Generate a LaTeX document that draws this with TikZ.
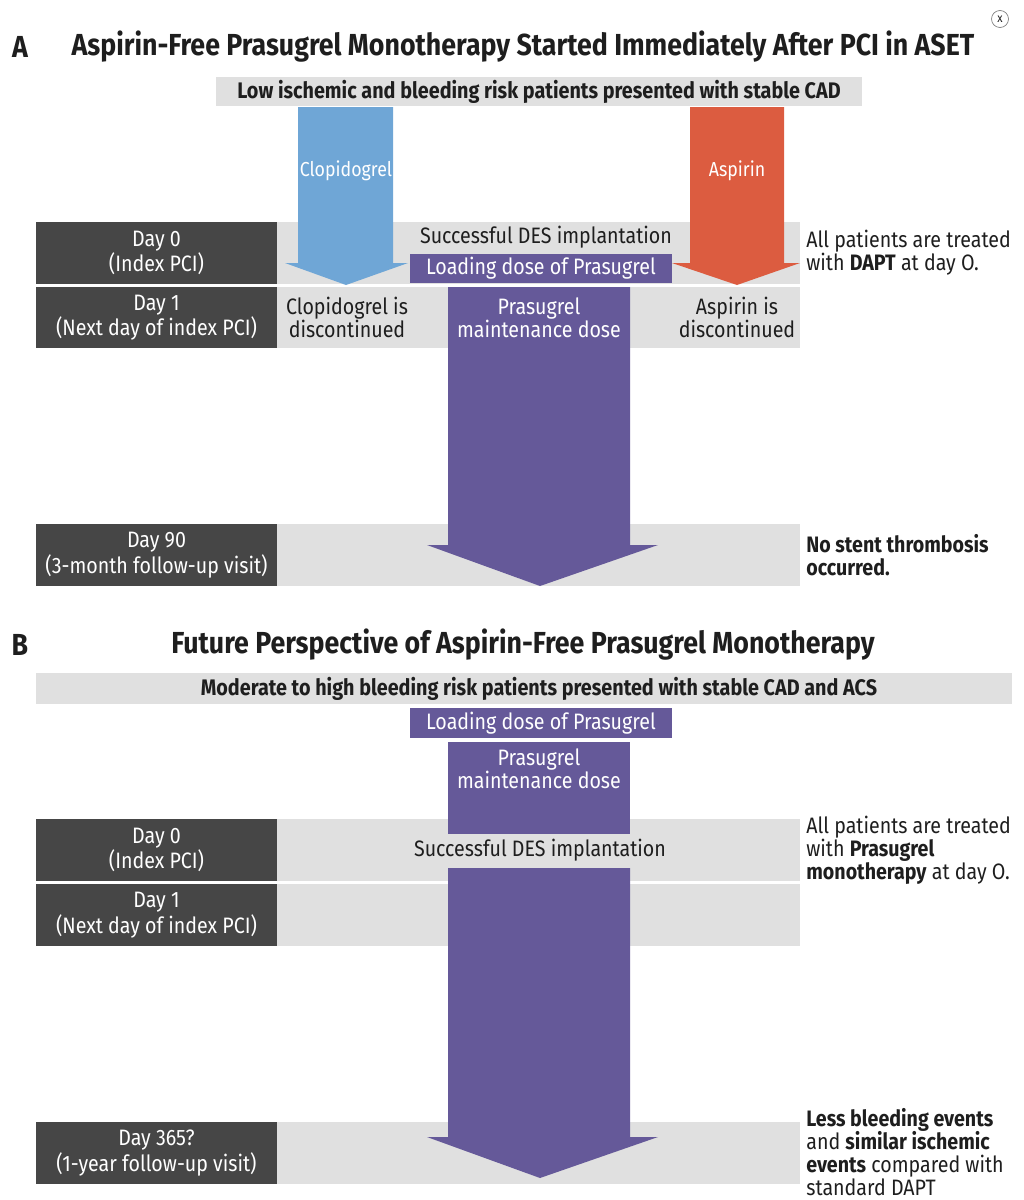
\documentclass[tikz,border=0pt]{standalone}
\usepackage{fontspec}
\setmainfont{Fira Sans}[FakeStretch=0.88]
\definecolor{daygray}{RGB}{70,70,70}
\definecolor{bandgray}{RGB}{224,224,224}
\definecolor{clopiblue}{RGB}{111,166,214}
\definecolor{aspired}{RGB}{220,92,64}
\definecolor{prasupurple}{RGB}{101,89,153}
\definecolor{inkgray}{RGB}{30,30,30}

\begin{document}
\begin{tikzpicture}[x=0.02cm,y=-0.02cm]
  \tikzstyle{every node}=[font=\fontsize{12.7}{13.2}\selectfont, text=inkgray, inner sep=0pt, align=center]
  \tikzstyle{onfill}=[text=white]
  \tikzstyle{sidetext}=[anchor=west, align=left]
  \tikzstyle{heading}=[font=\fontsize{17.3}{20}\selectfont\bfseries]
  \tikzstyle{riskbar}=[font=\fontsize{12.8}{14}\selectfont\bfseries]
  \useasboundingbox (0,0) rectangle (1024,1200);

  %close mark
  \node[circle, draw=gray, thin, minimum size=0.34cm, font=\scriptsize] (close) at (1000,19) {x};

  %Panel A: heading and risk bar
  \node[heading] (letterA) at (20,47) {A};
  \node[heading] (titleA) at (523,47)
  {Aspirin-Free Prasugrel Monotherapy Started Immediately After PCI in ASET};
  \fill[bandgray] (216,77) rectangle (862,106);
  \node[riskbar] (riskA) at (539,91.5)
  {Low ischemic and bleeding risk patients presented with stable CAD};

  %Day rows of panel A
  \fill[daygray] (36,222) rectangle (277,284);
  \fill[bandgray] (277,222) rectangle (800,284);
  \fill[daygray] (36,287) rectangle (277,348);
  \fill[bandgray] (277,287) rectangle (800,348);
  \fill[daygray] (36,524) rectangle (277,586);
  \fill[bandgray] (277,524) rectangle (800,586);
  \node[onfill] (day0A) at (156.5,253) {Day 0\\(Index PCI)};
  \node[onfill] (day1A) at (156.5,317.5) {Day 1\\(Next day of index PCI)};
  \node[onfill] (day90A) at (156.5,555) {Day 90\\(3-month follow-up visit)};

  %Clopidogrel and aspirin arrows
  \fill[clopiblue] (298,107) -- (393,107) -- (393,263) -- (408,263)
  -- (346,285) -- (285,263) -- (298,263) -- cycle;
  \fill[aspired] (690,107) -- (784,107) -- (784,263) -- (800,263)
  -- (737,285) -- (672,263) -- (690,263) -- cycle;
  \node[onfill, font=\fontsize{11.5}{13}\selectfont] (clopi) at (346,171) {Clopidogrel};
  \node[onfill, font=\fontsize{11.5}{13}\selectfont] (aspi) at (737,171) {Aspirin};

  %Prasugrel in panel A
  \node (desA) at (546,237) {Successful DES implantation};
  \fill[prasupurple] (410,254) rectangle (672,283);
  \node[onfill] (loadA) at (541,268.5) {Loading dose of Prasugrel};
  \fill[prasupurple] (448,287) -- (630,287) -- (630,545) -- (658,545)
  -- (540,586) -- (427,545) -- (448,545) -- cycle;
  \node[onfill] (mainA) at (539,317.5) {Prasugrel\\maintenance dose};
  \node (clopistop) at (347,317.5) {Clopidogrel is\\discontinued};
  \node (aspistop) at (737,317.5) {Aspirin is\\discontinued};

  %Notes of panel A
  \node[sidetext] (noteA1) at (806,252.5)
  {All patients are treated\\with \textbf{DAPT} at day O.};
  \node[sidetext, font=\fontsize{12.7}{13.2}\selectfont\bfseries] (noteA2) at (806,555)
  {No stent thrombosis\\occurred.};

  %Panel B: heading and risk bar
  \node[heading] (letterB) at (20,645) {B};
  \node[heading] (titleB) at (523,645)
  {Future Perspective of Aspirin-Free Prasugrel Monotherapy};
  \fill[bandgray] (36,673) rectangle (1012,704);
  \node[riskbar] (riskB) at (539,688.5)
  {Moderate to high bleeding risk patients presented with stable CAD and ACS};

  %Day rows of panel B
  \fill[daygray] (36,819) rectangle (277,881);
  \fill[bandgray] (277,819) rectangle (800,881);
  \fill[daygray] (36,884) rectangle (277,946);
  \fill[bandgray] (277,884) rectangle (800,946);
  \fill[daygray] (36,1122) rectangle (277,1184);
  \fill[bandgray] (277,1122) rectangle (800,1184);
  \node[onfill] (day0B) at (156.5,850) {Day 0\\(Index PCI)};
  \node[onfill] (day1B) at (156.5,915) {Day 1\\(Next day of index PCI)};
  \node[onfill] (day365B) at (156.5,1153) {Day 365?\\(1-year follow-up visit)};

  %Prasugrel in panel B
  \fill[prasupurple] (410,708) rectangle (672,738);
  \node[onfill] (loadB) at (541,723) {Loading dose of Prasugrel};
  \fill[prasupurple] (448,742) rectangle (630,834);
  \node[onfill] (mainB) at (539,769) {Prasugrel\\maintenance dose};
  \node (desB) at (540,850) {Successful DES implantation};
  \fill[prasupurple] (448,868) -- (630,868) -- (630,1137) -- (658,1137)
  -- (540,1178) -- (427,1137) -- (448,1137) -- cycle;

  %Notes of panel B
  \node[sidetext] (noteB1) at (806,850)
  {All patients are treated\\with \textbf{Prasugrel}\\\textbf{monotherapy} at day O.};
  \node[sidetext] (noteB2) at (806,1152)
  {\textbf{Less bleeding events}\\and \textbf{similar ischemic}\\\textbf{events} compared with\\standard DAPT};
\end{tikzpicture}
\end{document}
